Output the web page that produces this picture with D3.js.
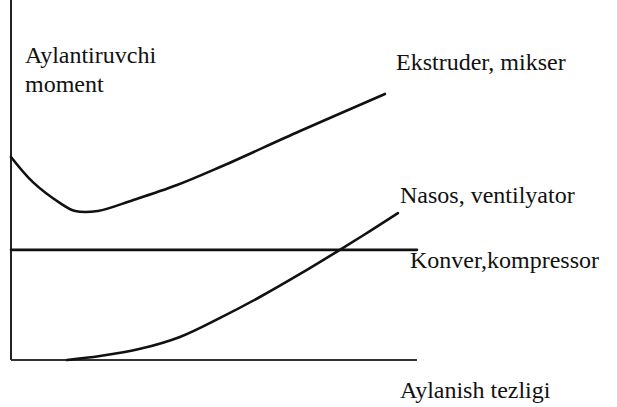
<!DOCTYPE html>
<html>
<head>
<meta charset="utf-8">
<script src="https://cdn.jsdelivr.net/npm/d3@7"></script>
</head>
<body style="margin:0">
<script>
// chart size
var width = 617;
var height = 407;
var fontSize = 24;

// curve data (x: speed, y: torque, arbitrary units 0..100)
const ekstruderX = [0, 5.4, 12.1, 15.8, 21.4, 30.0, 40.9, 51.5, 71.2, 92.1];
const ekstruderY = [56.4, 49.4, 43.6, 41.4, 41.4, 44.4, 48.6, 53.6, 63.6, 73.9];
const nasosX = [13.8, 21.9, 31.8, 41.6, 51.5, 61.3, 71.2, 81.0, 88.4, 95.3];
const nasosY = [0, 1.1, 3.1, 6.4, 11.7, 17.5, 23.9, 30.6, 35.8, 40.8];
const konverX = [0, 100];
const konverY = [30.6, 30.6];

const labels = ["Ekstruder, mikser", "Nasos, ventilyator", "Konver,kompressor"];
const yTitle = ["Aylantiruvchi", "moment"];
const xTitle = "Aylanish tezligi";

const x = d3.scaleLinear().domain([0, 100]).range([11, 417]);
const y = d3.scaleLinear().domain([0, 100]).range([360, 0]);

const svg = d3.select("body")
  .append("svg")
  .attr("width", width)
  .attr("height", height);

svg.append("rect").attr("width", width).attr("height", height).attr("fill", "#fff");

// axes (plain lines, no ticks)
svg.append("line")
  .attr("x1", x(0)).attr("x2", x(0))
  .attr("y1", 0).attr("y2", y(0))
  .attr("stroke", "#222").attr("stroke-width", 2);
svg.append("line")
  .attr("x1", x(0)).attr("x2", x(100))
  .attr("y1", y(0)).attr("y2", y(0))
  .attr("stroke", "#333").attr("stroke-width", 2);

const line = d3.line()
  .x(d => x(d[0]))
  .y(d => y(d[1]))
  .curve(d3.curveCatmullRom.alpha(0.5));

const series = [
  d3.zip(ekstruderX, ekstruderY),
  d3.zip(nasosX, nasosY),
  d3.zip(konverX, konverY)
];

svg.selectAll("path.curve")
  .data(series)
  .enter()
  .append("path")
  .attr("class", "curve")
  .attr("d", line)
  .attr("fill", "none")
  .attr("stroke", "#111")
  .attr("stroke-width", 2.6)
  .attr("stroke-linecap", "round");

// all texts: curve labels, y title (two lines), x title
const labelPos = [[396, 70], [400, 203], [410, 268]];
const texts = labels.map((t, i) => ({t: t, x: labelPos[i][0], y: labelPos[i][1]}))
  .concat(yTitle.map((t, i) => ({t: t, x: 25, y: 63 + i * 29})))
  .concat([{t: xTitle, x: 400, y: 398}]);

svg.selectAll("text.lbl")
  .data(texts)
  .enter()
  .append("text")
  .attr("class", "lbl")
  .attr("x", d => d.x)
  .attr("y", d => d.y)
  .attr("font-family", "Times New Roman")
  .attr("font-size", fontSize)
  .attr("fill", "#111")
  .text(d => d.t);
</script>
</body>
</html>
